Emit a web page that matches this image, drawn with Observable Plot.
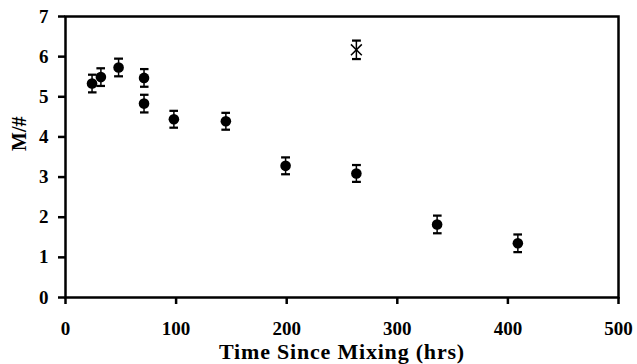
<!DOCTYPE html>
<html>
<head>
<meta charset="utf-8">
<script src="https://cdn.jsdelivr.net/npm/d3@7"></script>
<script src="https://cdn.jsdelivr.net/npm/@observablehq/plot@0.6"></script>
<style>
  html, body { margin: 0; padding: 0; background: #fff; }
</style>
</head>
<body>
<div id="chart"></div>
<script>
// Dots (filled circles)
const hours = [24, 32, 48, 71, 71, 98, 145, 199, 263, 336, 409];
const mValues = [5.33, 5.49, 5.73, 5.47, 4.83, 4.44, 4.39, 3.28, 3.09, 1.82, 1.35];
const mErrors = [0.22, 0.22, 0.22, 0.22, 0.22, 0.21, 0.21, 0.21, 0.21, 0.22, 0.22];
// Outlier point (star marker)
const starHours = [263];
const starValues = [6.17];
const starErrors = [0.23];
const xTicks = [0, 100, 200, 300, 400, 500];
const yTicks = [0, 1, 2, 3, 4, 5, 6, 7];
const xTitle = ["Time Since Mixing (hrs)"];
const yTitle = ["M/#"];

const dots = hours.map((h, i) => ({x: h, y: mValues[i], e: mErrors[i]}));
const stars = starHours.map((h, i) => ({x: h, y: starValues[i], e: starErrors[i]}));
const serif = "'Liberation Serif', 'Times New Roman', serif";

const chart = Plot.plot({
  width: 637,
  height: 364,
  marginLeft: 65,
  marginRight: 19,
  marginTop: 16,
  marginBottom: 67,
  style: {fontFamily: serif, fontWeight: "bold", fontSize: "19px", color: "#000", background: "#fff", overflow: "visible"},
  x: {domain: [0, 500], axis: null},
  y: {domain: [0, 7], axis: null},
  marks: [
    // tick labels
    Plot.text(xTicks, {x: d => d, frameAnchor: "bottom", dy: 31, text: d => String(d), fontSize: 19, fontWeight: "bold", fontFamily: serif, fill: "#000", textAnchor: "middle", lineAnchor: "middle"}),
    Plot.text(yTicks, {y: d => d, frameAnchor: "left", dx: -17, text: d => String(d), fontSize: 19, fontWeight: "bold", fontFamily: serif, fill: "#000", textAnchor: "end", lineAnchor: "middle"}),
    // tick marks (outward)
    Plot.ruleX(xTicks, {x: d => d, y1: 0, y2: 0, insetBottom: -7, stroke: "#000", strokeWidth: 2.5}),
    Plot.ruleY(yTicks, {y: d => d, x1: 0, x2: 0, insetLeft: -7, stroke: "#000", strokeWidth: 2.5}),
    // axis titles
    Plot.text(xTitle, {frameAnchor: "bottom", dy: 54, text: d => d, fontSize: 22, fontWeight: "bold", fontFamily: serif, fill: "#000", lineAnchor: "middle", className: "xtitle"}),
    Plot.text(yTitle, {frameAnchor: "left", dx: -46, dy: -6, rotate: -90, text: d => d, fontSize: 20, fontWeight: "bold", fontFamily: serif, fill: "#000", lineAnchor: "middle"}),
    Plot.frame({stroke: "#000", strokeWidth: 2.5}),
    // error bars
    Plot.link(dots, {x1: "x", x2: "x", y1: d => d.y - d.e, y2: d => d.y + d.e, stroke: "#000", strokeWidth: 1.5, markerStart: "tick", markerEnd: "tick"}),
    Plot.link(stars, {x1: "x", x2: "x", y1: d => d.y - d.e, y2: d => d.y + d.e, stroke: "#000", strokeWidth: 1.5, markerStart: "tick", markerEnd: "tick"}),
    // points
    Plot.dot(dots, {x: "x", y: "y", r: 5.3, fill: "#000", stroke: "none"}),
    Plot.dot(stars, {x: "x", y: "y", symbol: "times", r: 5, stroke: "#000", strokeWidth: 1.5})
  ]
});
document.getElementById("chart").appendChild(chart);
// widen the x title slightly, as in the reference
d3.select(chart).selectAll(".xtitle text").style("letter-spacing", "0.8px");
</script>
</body>
</html>
